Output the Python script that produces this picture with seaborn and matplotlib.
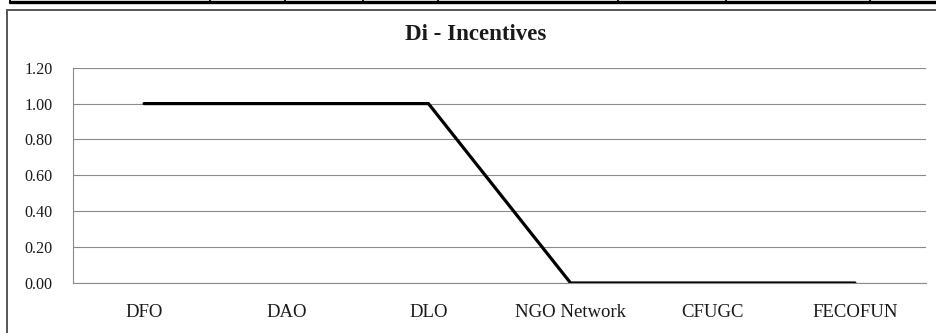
import matplotlib
matplotlib.use("Agg")
import matplotlib.pyplot as plt
from matplotlib.lines import Line2D
from matplotlib.patches import Rectangle
import seaborn as sns
import pandas as pd
import numpy as np

categories = ["DFO", "DAO", "DLO", "NGO Network", "CFUGC", "FECOFUN"]
values = [1.0, 1.0, 1.0, 0.0, 0.0, 0.0]
y_ticks = [0.0, 0.2, 0.4, 0.6, 0.8, 1.0, 1.2]
title = "Di - Incentives"

sns.set_theme(style="white")
plt.rcParams["font.family"] = ["Liberation Serif", "DejaVu Serif"]

W, H = 936, 333
fig = plt.figure(figsize=(W / 100, H / 100), dpi=100)

def fx(px):
    return px / W

def fy(py):
    return 1 - py / H

# table rule running across the top edge
fig.add_artist(Line2D([fx(10), fx(936)], [fy(1.8), fy(1.8)], color="black", lw=2.4))
for xv in [10, 210, 285, 363, 438, 618, 726, 870]:
    fig.add_artist(Line2D([fx(xv), fx(xv)], [fy(0), fy(3)], color="black", lw=1.3))

# chart frame
fig.add_artist(Rectangle((fx(6.5), fy(345)), fx(945), fy(10.5) - fy(345),
                         fill=False, edgecolor="#555555", lw=1.4))

ax = fig.add_axes([fx(73), fy(283), fx(926) - fx(73), fy(67.7) - fy(283)])

df = pd.DataFrame({"category": categories, "value": values})
df["pos"] = np.arange(len(categories))
sns.lineplot(data=df, x="pos", y="value", ax=ax, color="black", lw=2.3,
             sort=False, legend=False)

ax.set_xlim(-0.5, len(categories) - 0.5)
ax.set_ylim(0, 1.2)
ax.set_yticks(y_ticks)
ax.set_yticklabels([f"{v:.2f}" for v in y_ticks], fontsize=11.6)
ax.set_xticks(np.arange(len(categories)))
ax.set_xticklabels(categories, fontsize=13.5)
ax.set_xticks(np.arange(-0.5, len(categories)), minor=True)
ax.tick_params(axis="x", which="major", length=0, pad=15, colors="#1a1a1a")
ax.tick_params(axis="x", which="minor", length=5, width=0.8, color="#888888", direction="out")
ax.tick_params(axis="y", which="major", length=5, width=0.8, color="#888888",
               direction="out", pad=9.5, labelcolor="#1a1a1a")
ax.set_xlabel("")
ax.set_ylabel("")

ax.yaxis.grid(True, color="#8a8a8a", lw=0.8)
ax.xaxis.grid(False)
ax.set_axisbelow(True)
for side in ["top", "right"]:
    ax.spines[side].set_visible(False)
for side in ["left", "bottom"]:
    ax.spines[side].set_color("#8a8a8a")
    ax.spines[side].set_linewidth(0.8)

fig.text(fx(476), fy(35), title, ha="center", va="center",
         fontsize=16.5, fontweight="bold", color="#1a1a1a")

fig.savefig("out.png", dpi=100)
